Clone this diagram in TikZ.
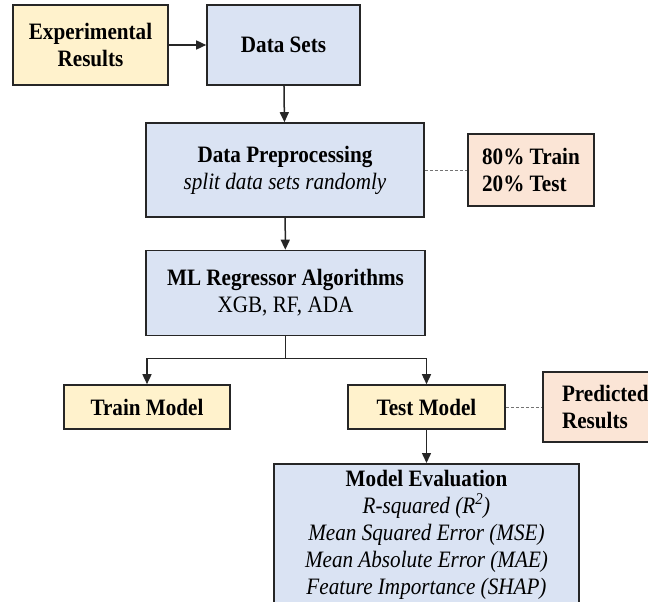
\documentclass[tikz,border=0pt]{standalone}
\usepackage{fontspec}
\setmainfont{Liberation Serif}[FakeStretch=0.9]
\usetikzlibrary{arrows.meta}

\definecolor{FlowYellow}{HTML}{FFF2CC}
\definecolor{FlowBlue}{HTML}{DAE3F3}
\definecolor{FlowPeach}{HTML}{FBE5D6}
\definecolor{FlowLine}{HTML}{262626}

\begin{document}
\begin{tikzpicture}[
    x=1pt,
    y=-1pt,
    font=\fontsize{23.5}{27}\selectfont,
    box/.style={draw=FlowLine, line width=1.6pt, inner xsep=4pt,
                inner ysep=3pt, align=center},
    inputbox/.style={box, fill=FlowYellow, font=\fontsize{23.5}{27}\selectfont\bfseries},
    stagebox/.style={box, fill=FlowBlue},
    notebox/.style={box, fill=FlowPeach, align=left, inner xsep=12pt,
                    font=\fontsize{23.5}{27}\selectfont\bfseries},
    flow/.style={draw=FlowLine, line width=1.5pt,
                 -{Triangle[length=10pt, width=9pt]}},
    link/.style={draw=black!55, line width=0.9pt, dash pattern=on 3pt off 2pt}
]
\useasboundingbox (0,0) rectangle (648,602);

% Top row: source data feeds the data sets.
\node[inputbox, minimum width=155, minimum height=80] (expres)
      at (90.5,45) {Experimental\\Results};
\node[stagebox, minimum width=153, minimum height=80,
      font=\fontsize{23.5}{27}\selectfont\bfseries] (datasets)
      at (283.5,45) {Data Sets};

% Main pipeline stages.
\node[stagebox, minimum width=278, minimum height=94] (prep)
      at (285,170) {\textbf{Data Preprocessing}\\\textit{split data sets randomly}};
\node[notebox, minimum width=126, minimum height=72] (split)
      at (531,170) {80\% Train\\20\% Test};
\node[stagebox, minimum width=279, minimum height=85] (ml)
      at (285.5,293) {\textbf{ML Regressor Algorithms}\\XGB, RF, ADA};

% Model branches.
\node[inputbox, minimum width=166, minimum height=44] (train)
      at (147,407) {Train Model};
\node[inputbox, minimum width=157, minimum height=44] (test)
      at (426.5,407) {Test Model};
\node[notebox, anchor=west, minimum width=125, minimum height=70] (pred)
      at (542,407) {Predicted\\Results};

\node[stagebox, anchor=north, minimum width=305, inner ysep=6pt] (eval)
      at (426.5,463) {\textbf{Model Evaluation}\\
      \textit{R-squared (R\textsuperscript{2})}\\
      \textit{Mean Squared Error (MSE)}\\
      \textit{Mean Absolute Error (MAE)}\\
      \textit{Feature Importance (SHAP)}\\[-6pt]\strut};

% Connectors.
\draw[flow] (expres) -- (datasets);
\draw[flow] (datasets) -- (prep);
\draw[flow] (prep) -- (ml);
\draw[flow] (ml.south) -- ++(0,22) -| (train.north);
\draw[flow] (ml.south) -- ++(0,22) -| (test.north);
\draw[flow] (test) -- (eval);
\draw[link] (prep) -- (split);
\draw[link] (test) -- (pred);
\end{tikzpicture}
\end{document}
